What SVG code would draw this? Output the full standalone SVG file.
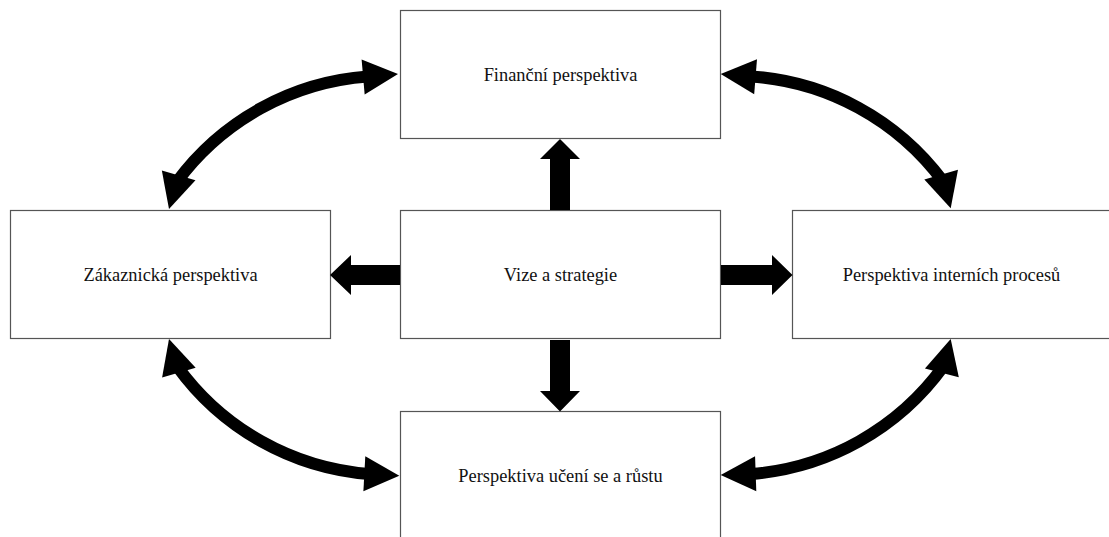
<svg xmlns="http://www.w3.org/2000/svg" xmlns:xlink="http://www.w3.org/1999/xlink" width="1109" height="537" viewBox="0 0 1109 537">
<style>
.box{fill:#fff;stroke:#555;stroke-width:1.2}
.lbl{font-family:"Liberation Serif","Times New Roman",serif;font-size:18.4px;fill:#111;text-anchor:middle}
.arc{fill:none;stroke:#000;stroke-width:12}
.blk{fill:#000;stroke:none}
</style>
<defs>
<path id="ah" d="M0,0 L-35,-17.5 L-35,17.5 Z"/>
</defs>
<rect width="1109" height="537" fill="#fff"/>
<g id="fin"><rect class="box" x="400.5" y="10.5" width="320" height="128"/><text class="lbl" x="560.5" y="80.5">Finanční perspektiva</text></g>
<g id="vize"><rect class="box" x="400.5" y="210.5" width="320" height="128"/><text class="lbl" x="560.5" y="280.5">Vize a strategie</text></g>
<g id="zak"><rect class="box" x="10.5" y="210.5" width="320" height="128"/><text class="lbl" x="170.5" y="280.5">Zákaznická perspektiva</text></g>
<g id="int"><rect class="box" x="792.5" y="210.5" width="320" height="128"/><text class="lbl" x="951.5" y="280.5">Perspektiva interních procesů</text></g>
<g id="uce"><rect class="box" x="400.5" y="411.5" width="320" height="128"/><text class="lbl" x="560.5" y="482">Perspektiva učení se a růstu</text></g>
<g id="connectors">
<polygon class="blk" points="550,210 550,159 540,159 560,139 580,159 570,159 570,210"/>
<polygon class="blk" points="550,340 550,391 540,391 560,411.5 580,391 570,391 570,340"/>
<polygon class="blk" points="400,265 351,265 351,255 330,275 351,295 351,285 400,285"/>
<polygon class="blk" points="721,265 772,265 772,255 792.5,275 772,295 772,285 721,285"/>
<path class="arc" d="M368,76.6 A261 261 0 0 0 176.7,182"/>
<use xlink:href="#ah" class="blk" transform="translate(398,74) rotate(-5)"/>
<use xlink:href="#ah" class="blk" transform="translate(169,209) rotate(106)"/>
<path class="arc" d="M750.6,76.4 A261 261 0 0 1 943.1,181.4"/>
<use xlink:href="#ah" class="blk" transform="translate(720.7,74) rotate(184.6)"/>
<use xlink:href="#ah" class="blk" transform="translate(950.7,208.3) rotate(74.2)"/>
<path class="arc" d="M176.9,365.9 A262 262 0 0 0 369.4,474"/>
<use xlink:href="#ah" class="blk" transform="translate(169,339) rotate(-106.4)"/>
<use xlink:href="#ah" class="blk" transform="translate(399.3,475.7) rotate(3.1)"/>
<path class="arc" d="M943.6,366.1 A262 262 0 0 1 750.7,474"/>
<use xlink:href="#ah" class="blk" transform="translate(950.7,339) rotate(-75.4)"/>
<use xlink:href="#ah" class="blk" transform="translate(720.7,475) rotate(178)"/>
</g>
</svg>
